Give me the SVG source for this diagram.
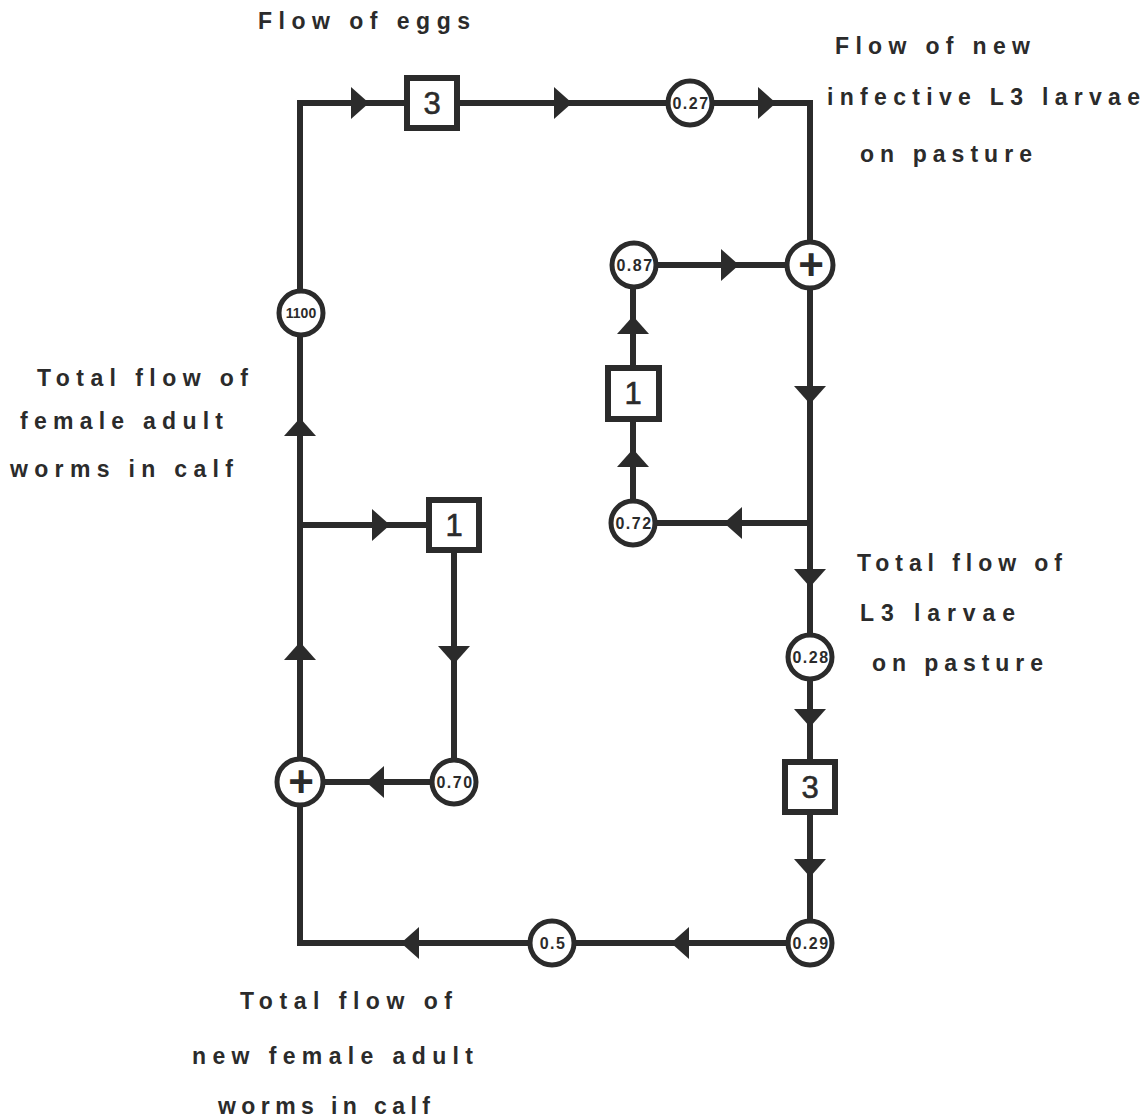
<svg xmlns="http://www.w3.org/2000/svg" xmlns:xlink="http://www.w3.org/1999/xlink" width="1147" height="1120" viewBox="0 0 1147 1120">
<style>
.ln{fill:none;stroke:#2b2b2b;stroke-width:6;stroke-linecap:square}
.ah{fill:#2b2b2b}
.cir{fill:#fff;stroke:#2b2b2b;stroke-width:5}
.box{fill:#fff;stroke:#2b2b2b;stroke-width:6}
.ct{font-family:"Liberation Sans",Arial,sans-serif;font-weight:bold;font-size:16px;fill:#2b2b2b;text-anchor:middle;letter-spacing:1.5px}
.bt{font-family:"Liberation Sans",Arial,sans-serif;font-size:31px;fill:#2b2b2b;text-anchor:middle;stroke:#2b2b2b;stroke-width:0.6}
.pl{font-family:"Liberation Sans",Arial,sans-serif;font-weight:bold;font-size:44px;fill:#2b2b2b;text-anchor:middle}
.lb{font-family:"Liberation Sans",Arial,sans-serif;font-weight:bold;font-size:23px;fill:#2b2b2b}
</style>
<defs>
<path id="ar" d="M9,0 L-9,-16 L-9,16 Z"/>
</defs>
<rect width="1147" height="1120" fill="#fff"/>
<g id="connectors">
<path class="ln" d="M300,943 V103 H810 V943 H300"/>
<path class="ln" d="M810,523 H633 V265 H810"/>
<path class="ln" d="M300,525 H454 V782 H300"/>
<g class="ah">
<use xlink:href="#ar" transform="translate(360,103)"/>
<use xlink:href="#ar" transform="translate(563,103)"/>
<use xlink:href="#ar" transform="translate(767,103)"/>
<use xlink:href="#ar" transform="translate(810,395) rotate(90)"/>
<use xlink:href="#ar" transform="translate(810,578) rotate(90)"/>
<use xlink:href="#ar" transform="translate(810,718) rotate(90)"/>
<use xlink:href="#ar" transform="translate(810,868) rotate(90)"/>
<use xlink:href="#ar" transform="translate(680,943) rotate(180)"/>
<use xlink:href="#ar" transform="translate(410,943) rotate(180)"/>
<use xlink:href="#ar" transform="translate(300,651) rotate(-90)"/>
<use xlink:href="#ar" transform="translate(300,427) rotate(-90)"/>
<use xlink:href="#ar" transform="translate(381,525)"/>
<use xlink:href="#ar" transform="translate(454,655) rotate(90)"/>
<use xlink:href="#ar" transform="translate(375,782) rotate(180)"/>
<use xlink:href="#ar" transform="translate(733,523) rotate(180)"/>
<use xlink:href="#ar" transform="translate(633,458) rotate(-90)"/>
<use xlink:href="#ar" transform="translate(633,325) rotate(-90)"/>
<use xlink:href="#ar" transform="translate(730,265)"/>
</g>
</g>
<g id="box-top3"><rect class="box" x="407" y="78" width="50" height="50"/><text class="bt" x="432" y="114">3</text></g>
<g id="c-027"><circle class="cir" cx="690" cy="103" r="22"/><text class="ct" x="691" y="109">0.27</text></g>
<g id="c-1100"><circle class="cir" cx="301" cy="313" r="22"/><text class="ct" x="301" y="318" style="font-size:14px;letter-spacing:0">1100</text></g>
<g id="c-087"><circle class="cir" cx="634" cy="265" r="22"/><text class="ct" x="635" y="271">0.87</text></g>
<g id="plus-right"><circle class="cir" cx="810" cy="265" r="23"/><text class="pl" x="811" y="280">+</text></g>
<g id="box-mid1"><rect class="box" x="608" y="368" width="51" height="51"/><text class="bt" x="633" y="404">1</text></g>
<g id="c-072"><circle class="cir" cx="633" cy="523" r="22"/><text class="ct" x="634" y="529">0.72</text></g>
<g id="box-left1"><rect class="box" x="429" y="500" width="50" height="50"/><text class="bt" x="454" y="536">1</text></g>
<g id="c-070"><circle class="cir" cx="454" cy="782" r="22"/><text class="ct" x="455" y="788">0.70</text></g>
<g id="plus-left"><circle class="cir" cx="300" cy="782" r="23"/><text class="pl" x="301" y="797">+</text></g>
<g id="c-028"><circle class="cir" cx="810" cy="657" r="22"/><text class="ct" x="811" y="663">0.28</text></g>
<g id="box-right3"><rect class="box" x="785" y="762" width="50" height="50"/><text class="bt" x="810" y="798">3</text></g>
<g id="c-029"><circle class="cir" cx="810" cy="943" r="22"/><text class="ct" x="811" y="949">0.29</text></g>
<g id="c-05"><circle class="cir" cx="552" cy="943" r="22"/><text class="ct" x="553" y="949">0.5</text></g>
<g id="labels">
<text class="lb" x="258" y="29" textLength="212" lengthAdjust="spacing">Flow of eggs</text>
<text class="lb" x="835" y="54" textLength="195" lengthAdjust="spacing">Flow of new</text>
<text class="lb" x="827" y="105" textLength="313" lengthAdjust="spacing">infective L3 larvae</text>
<text class="lb" x="860" y="162" textLength="172" lengthAdjust="spacing">on pasture</text>
<text class="lb" x="37" y="386" textLength="211" lengthAdjust="spacing">Total flow of</text>
<text class="lb" x="20" y="429" textLength="203" lengthAdjust="spacing">female adult</text>
<text class="lb" x="10" y="477" textLength="223" lengthAdjust="spacing">worms in calf</text>
<text class="lb" x="857" y="571" textLength="205" lengthAdjust="spacing">Total flow of</text>
<text class="lb" x="860" y="621" textLength="155" lengthAdjust="spacing">L3 larvae</text>
<text class="lb" x="872" y="671" textLength="171" lengthAdjust="spacing">on pasture</text>
<text class="lb" x="240" y="1009" textLength="212" lengthAdjust="spacing">Total flow of</text>
<text class="lb" x="192" y="1064" textLength="281" lengthAdjust="spacing">new female adult</text>
<text class="lb" x="218" y="1114" textLength="212" lengthAdjust="spacing">worms in calf</text>
</g>
</svg>
